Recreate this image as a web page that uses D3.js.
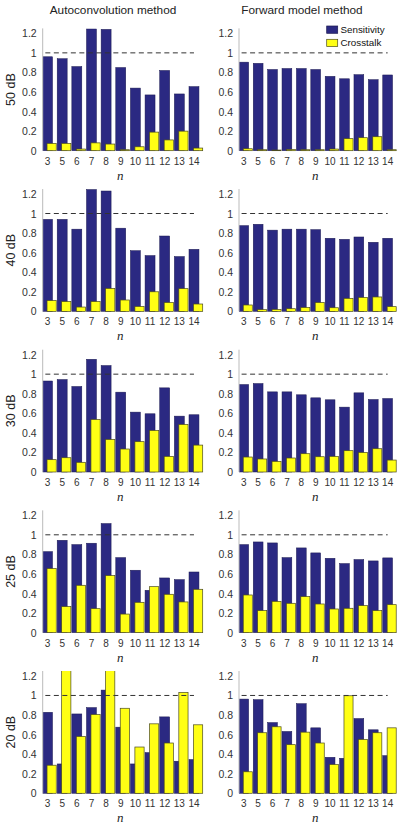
<!DOCTYPE html>
<html><head><meta charset="utf-8">
<script src="https://cdn.jsdelivr.net/npm/d3@7"></script>
<style>html,body{margin:0;padding:0;background:#fff;}svg{display:block;}</style>
</head><body>
<svg id="chart" width="400" height="824"></svg>
<script>
const categories = ["3","5","6","7","8","9","10","11","12","13","14"];
const rowLabels = ["50 dB","40 dB","30 dB","25 dB","20 dB"];
const methods = ["Autoconvolution method","Forward model method"];
const seriesNames = ["Sensitivity","Crosstalk"];
const yTicks = [0,0.2,0.4,0.6,0.8,1,1.2];
const yTickLabels = ["0","0.2","0.4","0.6","0.8","1","1.2"];

// Autoconvolution method
const sensAuto50  = [0.96,0.94,0.86,1.245,1.24,0.85,0.64,0.57,0.82,0.58,0.655];
const crossAuto50 = [0.075,0.075,0.017,0.08,0.068,0.01,0.04,0.19,0.11,0.20,0.027];
const sensAuto40  = [0.94,0.94,0.84,1.245,1.23,0.85,0.62,0.57,0.77,0.56,0.634];
const crossAuto40 = [0.11,0.10,0.044,0.10,0.235,0.116,0.05,0.20,0.09,0.232,0.075];
const sensAuto30  = [0.93,0.945,0.874,1.152,1.088,0.816,0.612,0.595,0.86,0.571,0.585];
const crossAuto30 = [0.126,0.146,0.099,0.537,0.333,0.235,0.31,0.425,0.16,0.486,0.275];
const sensAuto25  = [0.828,0.944,0.90,0.914,1.115,0.767,0.638,0.433,0.559,0.542,0.62];
const crossAuto25 = [0.655,0.266,0.484,0.245,0.583,0.19,0.31,0.47,0.392,0.314,0.443];
const sensAuto20  = [0.828,0.30,0.811,0.876,1.055,0.676,0.30,0.416,0.781,0.328,0.345];
const crossAuto20 = [0.287,1.30,0.581,0.805,1.30,0.869,0.473,0.71,0.514,1.031,0.70];

// Forward model method
const sensFwd50  = [0.905,0.893,0.83,0.84,0.84,0.83,0.76,0.735,0.777,0.726,0.774];
const crossFwd50 = [0.02,0.01,0.007,0.013,0.01,0.01,0.017,0.123,0.133,0.143,0.01];
const sensFwd40  = [0.876,0.89,0.83,0.84,0.84,0.835,0.747,0.736,0.76,0.706,0.747];
const crossFwd40 = [0.065,0.017,0.02,0.027,0.04,0.09,0.037,0.133,0.143,0.147,0.048];
const sensFwd30  = [0.894,0.904,0.819,0.819,0.789,0.758,0.738,0.663,0.809,0.741,0.751];
const crossFwd30 = [0.153,0.133,0.109,0.143,0.187,0.156,0.16,0.218,0.20,0.238,0.122];
const sensFwd25  = [0.90,0.927,0.917,0.767,0.866,0.815,0.76,0.706,0.747,0.733,0.764];
const crossFwd25 = [0.385,0.225,0.32,0.30,0.368,0.293,0.242,0.249,0.276,0.225,0.286];
const sensFwd20  = [0.963,0.957,0.723,0.632,0.916,0.669,0.368,0.358,0.764,0.649,0.385];
const crossFwd20 = [0.22,0.619,0.68,0.497,0.625,0.514,0.294,0.997,0.551,0.619,0.669];

const panels = [
  [[sensAuto50,crossAuto50],[sensFwd50,crossFwd50]],
  [[sensAuto40,crossAuto40],[sensFwd40,crossFwd40]],
  [[sensAuto30,crossAuto30],[sensFwd30,crossFwd30]],
  [[sensAuto25,crossAuto25],[sensFwd25,crossFwd25]],
  [[sensAuto20,crossAuto20],[sensFwd20,crossFwd20]]
];

const NAVY = "#2b2982", YELLOW = "#ffff14";
const svg = d3.select("#chart");
const FONT = "'Liberation Sans', Arial, sans-serif";

const colRanges = [[42.7,203.5],[239,397]];
const titleX = [113, 302];
const bottom0 = 150.7, rowPitch = 160.65, plotH = 122.3;

methods.forEach((m,c)=>{
  svg.append("text").attr("x",titleX[c]).attr("y",14)
    .attr("text-anchor","middle").attr("font-family",FONT).attr("font-size",11.8)
    .attr("fill","#222").text(m);
});

panels.forEach((row,r)=>{
  const yb = bottom0 + r*rowPitch;
  const y = d3.scaleLinear().domain([0,1.25]).range([yb, yb-plotH]);
  // row label
  svg.append("text")
    .attr("transform",`translate(15,${yb-plotH/2}) rotate(-90)`)
    .attr("text-anchor","middle").attr("font-family",FONT).attr("font-size",12.5)
    .attr("fill","#222").text(rowLabels[r]);
  row.forEach((pair,c)=>{
    const x = d3.scaleLinear().domain([-0.33,10.65]).range(colRanges[c]);
    const step = x(1)-x(0);
    const g = svg.append("g");
    const clipId = `clip-${r}-${c}`;
    svg.append("clipPath").attr("id",clipId).append("rect")
      .attr("x",colRanges[c][0]).attr("y",y(1.25))
      .attr("width",colRanges[c][1]-colRanges[c][0]+2).attr("height",plotH+1);
    const bars = g.append("g").attr("clip-path",`url(#${clipId})`);
    const wN = 0.68*step, wY = 0.63*step, offY = 0.28*step;
    bars.selectAll("rect.s").data(pair[0]).join("rect").attr("class","s")
      .attr("x",(d,i)=>x(i)-wN/2).attr("width",wN)
      .attr("y",d=>y(d)).attr("height",d=>y(0)-y(d))
      .attr("fill",NAVY).attr("stroke","#1a1850").attr("stroke-width",0.5);
    bars.selectAll("rect.c").data(pair[1]).join("rect").attr("class","c")
      .attr("x",(d,i)=>x(i)+offY-wY/2).attr("width",wY)
      .attr("y",d=>y(d)).attr("height",d=>y(0)-y(d))
      .attr("fill",YELLOW).attr("stroke","#4a4a20").attr("stroke-width",0.7);
    g.append("line").attr("x1",x(-0.15)).attr("x2",x(10))
      .attr("y1",y(1)).attr("y2",y(1))
      .attr("stroke","#333").attr("stroke-width",1).attr("stroke-dasharray","5,3.5");
    g.append("line").attr("x1",colRanges[c][0]).attr("x2",colRanges[c][0])
      .attr("y1",y(1.25)).attr("y2",y(0)).attr("stroke","#bbb").attr("stroke-width",1);
    g.selectAll("text.yt").data(yTicks).join("text").attr("class","yt")
      .attr("x",colRanges[c][0]-6).attr("y",d=>y(d)+4)
      .attr("text-anchor","end").attr("font-family",FONT).attr("font-size",10.5)
      .attr("fill","#333").text((d,i)=>yTickLabels[i]);
    g.selectAll("text.xt").data(categories).join("text").attr("class","xt")
      .attr("x",(d,i)=>x(i)).attr("y",yb+14)
      .attr("text-anchor","middle").attr("font-family",FONT).attr("font-size",10)
      .attr("fill","#333").text(d=>d);
    g.append("text").attr("x",(colRanges[c][0]+x(10))/2+2).attr("y",yb+29)
      .attr("text-anchor","middle").attr("font-family","'Liberation Serif','DejaVu Serif',serif")
      .attr("font-style","italic").attr("font-size",13).attr("fill","#222").text("n");
  });
});

const legend = svg.append("g");
const legColors = [NAVY, YELLOW];
const legStroke = ["#1a1850","#4a4a20"];
seriesNames.forEach((s,i)=>{
  legend.append("rect").attr("x",326.7).attr("y",26+i*13.3).attr("width",11).attr("height",7.3)
    .attr("fill",legColors[i]).attr("stroke",legStroke[i]).attr("stroke-width",0.7);
  legend.append("text").attr("x",340.5).attr("y",33+i*13.3)
    .attr("font-family",FONT).attr("font-size",9.8).attr("fill","#111").text(s);
});
</script>
</body></html>
